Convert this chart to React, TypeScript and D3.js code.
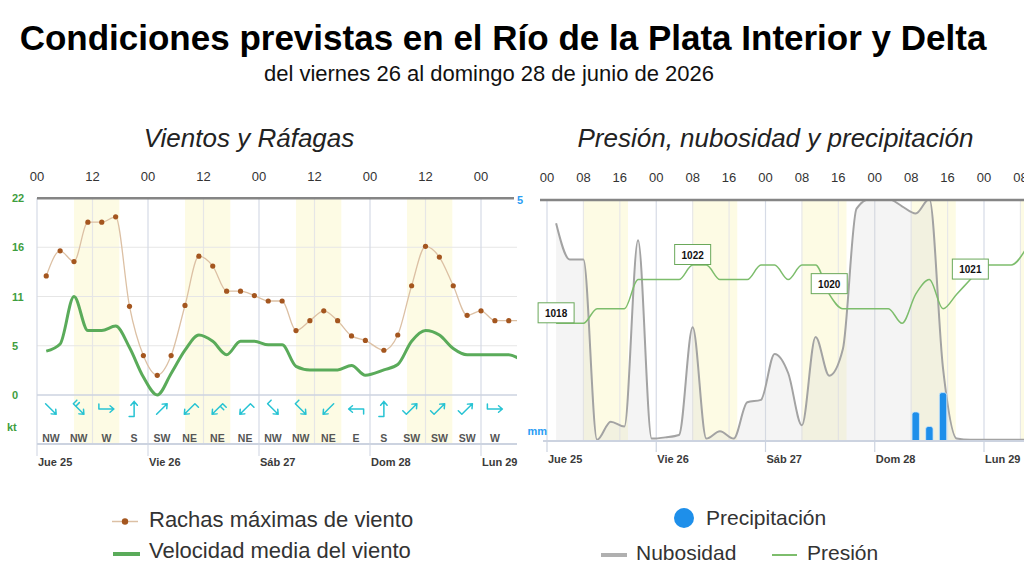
import React from 'react';
import * as d3 from 'd3';

const FONT = 'Liberation Sans, Arial, Helvetica, sans-serif';

// hours counted from Thu 25 00h
const windHours = [2, 5, 8, 11, 14, 17, 20, 23, 26, 29, 32, 35, 38, 41, 44, 47, 50, 53, 56, 59, 62, 65, 68, 71, 75, 78, 81, 84, 87, 90, 93, 96, 99, 102, 105];
const gusts = [13.3, 16.1, 14.9, 19.3, 19.3, 19.9, 9.9, 4.4, 2.2, 4.4, 10.0, 15.5, 14.4, 11.6, 11.6, 11.1, 10.5, 10.5, 7.2, 8.3, 9.4, 8.3, 6.6, 6.1, 5.0, 6.7, 12.2, 16.6, 15.4, 12.2, 8.9, 9.4, 8.3, 8.3, 8.3];
const meanWind = [4.9, 5.7, 11.0, 7.2, 7.2, 7.7, 5.3, 2.0, 0.0, 2.4, 5.0, 6.7, 6.0, 4.5, 6.0, 6.0, 5.6, 5.6, 3.2, 2.8, 2.8, 2.8, 3.3, 2.2, 2.8, 3.4, 6.0, 7.2, 6.7, 5.2, 4.5, 4.5, 4.5, 4.5, 3.8];

const dirHours = [3, 9, 15, 21, 27, 33, 39, 45, 51, 57, 63, 69, 75, 81, 87, 93, 99];
const dirLabels = ['NW', 'NW', 'W', 'S', 'SW', 'NE', 'NE', 'NE', 'NW', 'NW', 'NE', 'E', 'S', 'SW', 'SW', 'SW', 'W'];
const dirBarbs = [0, 2, 1, 1, 0, 1, 2, 1, 1, 1, 0, 1, 1, 1, 1, 1, 1];
const bearings: Record<string, number> = { N: 0, NE: 45, E: 90, SE: 135, S: 180, SW: 225, W: 270, NW: 315 };

const cloudHours = windHours;
const cloud = [90, 75, 75, 0.5, 8, 6, 83, 1, 1.5, 2.5, 47, 1, 4, 1, 16, 17, 36, 28, 6.5, 43, 27, 38, 96, 100, 100, 97, 94, 100, 30, 1, 0.5, 0.5, 0.5, 0.5, 0.5];
const pressure = [1018, 1018, 1018, 1019, 1019, 1019, 1021, 1021, 1021, 1021, 1022, 1022, 1021, 1021, 1021, 1022, 1022, 1021, 1022, 1022, 1020, 1019, 1019, 1019, 1019, 1018, 1020, 1021, 1019, 1020, 1021, 1022, 1022, 1022, 1023];
const pressureLabelIdx = [0, 10, 20, 30];
const precipHours = [81, 84, 87];
const precip = [0.6, 0.3, 1.0];

const dayLabels = ['Jue 25', 'Vie 26', 'Sáb 27', 'Dom 28', 'Lun 29'];
const leftTicks = [0, 5.5, 11, 16.5, 22];
const leftTickLabels = ['0', '5', '11', '16', '22'];
const sunrise = 8;
const sunset = 17.8;

const xL = d3.scaleLinear().domain([0, 96]).range([37, 481]);
const yL = d3.scaleLinear().domain([0, 22]).range([395, 198]);
const xR = d3.scaleLinear().domain([0, 96]).range([547, 984]);
const yCloud = d3.scaleLinear().domain([0, 100]).range([441, 199]);
const yPres = d3.scaleLinear().domain([1018, 1022]).range([323.3, 265]);
const yPrec = d3.scaleLinear().domain([0, 5]).range([441, 199]);

const GREEN = '#5aab5a';
const TAN = '#dcc0a4';
const BROWN = '#a4561f';
const CYAN = '#27c3d3';
const BLUE = '#1e8fea';
const YELLOW = '#fdfbe4';

function barbPath(cx: number, cy: number, from: number, n: number) {
  const b = ((from + 180) * Math.PI) / 180;
  const tx = Math.sin(b);
  const ty = -Math.cos(b);
  const L = 15;
  const hx = cx + (tx * L) / 2;
  const hy = cy + (ty * L) / 2;
  const sx = cx - (tx * L) / 2;
  const sy = cy - (ty * L) / 2;
  let d = `M${sx},${sy}L${hx},${hy}`;
  const back = Math.atan2(ty, tx) + Math.PI;
  for (const s of [-1, 1]) {
    const a = back + s * 0.7;
    d += `M${hx},${hy}L${hx + 5 * Math.cos(a)},${hy + 5 * Math.sin(a)}`;
  }
  // barbs sit on the left of the tail
  const lx = ty;
  const ly = -tx;
  for (let k = 0; k < n; k++) {
    const bx = sx + tx * k * 3.5;
    const by = sy + ty * k * 3.5;
    d += `M${bx},${by}L${bx + lx * 5},${by + ly * 5}`;
  }
  return d;
}

export default function App() {
  const gustPts = windHours.map((h, i) => [h, gusts[i]] as [number, number]);
  const meanPts = windHours.map((h, i) => [h, meanWind[i]] as [number, number]);
  const lineL = d3
    .line<[number, number]>()
    .x(d => xL(d[0]))
    .y(d => yL(d[1]))
    .curve(d3.curveMonotoneX);

  const cloudPts = cloudHours.map((h, i) => [h, cloud[i]] as [number, number]);
  const cloudLine = d3
    .line<[number, number]>()
    .x(d => xR(d[0]))
    .y(d => yCloud(d[1]))
    .curve(d3.curveMonotoneX);
  const cloudArea = d3
    .area<[number, number]>()
    .x(d => xR(d[0]))
    .y0(yCloud(0))
    .y1(d => yCloud(d[1]))
    .curve(d3.curveMonotoneX);
  const presPts = cloudHours.map((h, i) => [h, pressure[i]] as [number, number]);
  const presLine = d3
    .line<[number, number]>()
    .x(d => xR(d[0]))
    .y(d => yPres(d[1]))
    .curve(d3.curveMonotoneX);

  const days = d3.range(0, 5);
  const leftGrid = d3.range(0, 97, 12);
  const rightGrid = d3.range(0, 105, 8);
  const pad2 = (h: number) => String(h % 24).padStart(2, '0');

  return (
    <svg width={1024} height={585} style={{ position: 'absolute', left: 0, top: 0, background: '#fff' }} fontFamily={FONT}>
      <defs>
        <clipPath id="clipL">
          <rect x={37} y={190} width={480} height={270} />
        </clipPath>
        <clipPath id="clipR">
          <rect x={540} y={199} width={484} height={242} />
        </clipPath>
      </defs>

      <text x={503} y={50} textAnchor="middle" fontSize={35} fontWeight="bold" fill="#000">
        Condiciones previstas en el Río de la Plata Interior y Delta
      </text>
      <text x={489} y={81} textAnchor="middle" fontSize={22} fill="#111">
        del viernes 26 al domingo 28 de junio de 2026
      </text>

      {/* wind panel */}
      <text x={249} y={147} textAnchor="middle" fontSize={26} fontStyle="italic" fill="#222">
        Vientos y Ráfagas
      </text>
      <g clipPath="url(#clipL)">
        {days.map(d => (
          <rect key={d} x={xL(d * 24 + sunrise)} y={198} width={xL(sunset) - xL(sunrise)} height={247} fill={YELLOW} />
        ))}
      </g>
      {leftTicks.slice(1, 4).map(t => (
        <line key={t} x1={37} x2={517} y1={yL(t)} y2={yL(t)} stroke="#e6e6e6" strokeWidth={1} />
      ))}
      {leftGrid.map(h => (
        <line key={h} x1={xL(h)} x2={xL(h)} y1={198} y2={h % 24 === 0 ? 456 : 444} stroke={h % 24 === 0 ? '#d6dbe6' : '#e6e6e6'} strokeWidth={1.2} />
      ))}
      <line x1={37} x2={517} y1={yL(0)} y2={yL(0)} stroke="#ccd3e0" strokeWidth={1.5} />
      <line x1={37} x2={517} y1={444} y2={444} stroke="#ccd3e0" strokeWidth={2} />
      <line x1={37} x2={514} y1={198.3} y2={198.3} stroke="#858585" strokeWidth={2.5} />
      {leftGrid.map(h => (
        <text key={h} x={xL(h)} y={181} textAnchor="middle" fontSize={13} fill="#333">
          {pad2(h)}
        </text>
      ))}
      {days.map(d => (
        <text key={d} x={xL(d * 24) + 1} y={466} fontSize={11} fontWeight="bold" fill="#3a3a3a">
          {dayLabels[d]}
        </text>
      ))}
      {leftTicks.map((t, i) => (
        <text key={t} x={12} y={yL(t) + 4} fontSize={11} fontWeight="bold" fill="#3e9e3e">
          {leftTickLabels[i]}
        </text>
      ))}
      <text x={7} y={431} fontSize={11} fontWeight="bold" fill="#3e9e3e">
        kt
      </text>
      <text x={517} y={204} fontSize={11} fontWeight="bold" fill="#2a9df4">
        5
      </text>
      <g clipPath="url(#clipL)">
        <path d={lineL(gustPts) || ''} fill="none" stroke={TAN} strokeWidth={1.3} />
        {gustPts.map((p, i) => (
          <circle key={i} cx={xL(p[0])} cy={yL(p[1])} r={2.6} fill={BROWN} />
        ))}
        <path d={lineL(meanPts) || ''} fill="none" stroke={GREEN} strokeWidth={3} strokeLinejoin="round" />
        {dirHours.map((h, i) => (
          <g key={h}>
            <path d={barbPath(xL(h), 409, bearings[dirLabels[i]], dirBarbs[i])} fill="none" stroke={CYAN} strokeWidth={1.5} strokeLinecap="round" />
            <text x={xL(h)} y={442} textAnchor="middle" fontSize={10.5} fontWeight="bold" fill="#555">
              {dirLabels[i]}
            </text>
          </g>
        ))}
      </g>

      {/* pressure / cloud / rain panel */}
      <text x={775.5} y={147} textAnchor="middle" fontSize={26} fontStyle="italic" fill="#222">
        Presión, nubosidad y precipitación
      </text>
      <g clipPath="url(#clipR)">
        {days.concat([4.33]).map(d => (
          <rect key={d} x={xR(Math.floor(d) * 24 + sunrise)} y={199} width={xR(sunset) - xR(sunrise)} height={242} fill={YELLOW} />
        ))}
        {rightGrid.map(h => (
          <line key={h} x1={xR(h)} x2={xR(h)} y1={199} y2={441} stroke={h % 24 === 0 ? '#d6dbe6' : '#e8e8e8'} strokeWidth={1.2} />
        ))}
        <path d={cloudArea(cloudPts) || ''} fill="#d4d4d4" fillOpacity={0.25} />
        <path d={cloudLine(cloudPts) || ''} fill="none" stroke="#a3a3a3" strokeWidth={2} />
        <path d={presLine(presPts) || ''} fill="none" stroke="#7dbd6c" strokeWidth={1.5} />
        {precipHours.map((h, i) => {
          const top = yPrec(precip[i]);
          const x = xR(h) - 3.7;
          const w = 7.4;
          const r = 2.5;
          return (
            <path
              key={h}
              d={`M${x},441V${top + r}Q${x},${top} ${x + r},${top}H${x + w - r}Q${x + w},${top} ${x + w},${top + r}V441Z`}
              fill={BLUE}
              stroke="#cfe8fb"
              strokeWidth={0.8}
            />
          );
        })}
      </g>
      {pressureLabelIdx.map(i => {
        const cx = xR(cloudHours[i]);
        const cy = yPres(pressure[i]);
        return (
          <g key={i}>
            <rect x={cx - 18} y={cy - 20.5} width={36} height={20} fill="#fff" stroke="#6aa85a" strokeWidth={1} />
            <text x={cx} y={cy - 6.5} textAnchor="middle" fontSize={10} fontWeight="bold" fill="#111">
              {pressure[i]}
            </text>
          </g>
        );
      })}
      {rightGrid.filter(h => h % 24 === 0).map(h => (
        <line key={h} x1={xR(h)} x2={xR(h)} y1={441} y2={452} stroke="#ccd3e0" strokeWidth={1.2} />
      ))}
      <line x1={543} x2={1024} y1={441} y2={441} stroke="#ccd3e0" strokeWidth={2} />
      <line x1={540} x2={1024} y1={200} y2={200} stroke="#858585" strokeWidth={2.5} />
      {rightGrid.map(h => (
        <text key={h} x={xR(h)} y={182} textAnchor="middle" fontSize={13} fill="#333">
          {pad2(h)}
        </text>
      ))}
      {days.map(d => (
        <text key={d} x={xR(d * 24) + 1} y={463} fontSize={11} fontWeight="bold" fill="#3a3a3a">
          {dayLabels[d]}
        </text>
      ))}
      <text x={547} y={435} textAnchor="end" fontSize={11} fontWeight="bold" fill="#2a9df4">
        mm
      </text>

      {/* legends */}
      <line x1={112} x2={138} y1={521.5} y2={521.5} stroke={TAN} strokeWidth={1.5} />
      <circle cx={125} cy={521.5} r={3.2} fill={BROWN} />
      <text x={149} y={527} fontSize={22} fill="#333">
        Rachas máximas de viento
      </text>
      <line x1={113} x2={140} y1={554} y2={554} stroke={GREEN} strokeWidth={4} />
      <text x={149} y={558} fontSize={22} fill="#333">
        Velocidad media del viento
      </text>

      <circle cx={684} cy={518} r={10} fill={BLUE} />
      <text x={706} y={525} fontSize={21} fill="#333">
        Precipitación
      </text>
      <line x1={601} x2={627} y1={555} y2={555} stroke="#b0b0b0" strokeWidth={4} />
      <text x={636} y={560} fontSize={21} fill="#333">
        Nubosidad
      </text>
      <line x1={772} x2={797} y1={555} y2={555} stroke="#7dbd6c" strokeWidth={2} />
      <text x={807} y={560} fontSize={21} fill="#333">
        Presión
      </text>
    </svg>
  );
}
